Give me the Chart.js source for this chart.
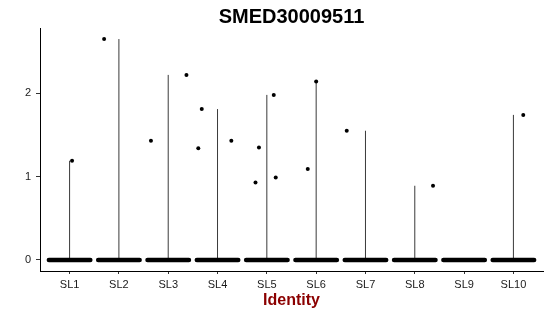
<!DOCTYPE html>
<html>
<head>
<meta charset="utf-8">
<script src="https://cdn.jsdelivr.net/npm/chart.js@4.4.1/dist/chart.umd.min.js"></script>
<style>
html, body { margin: 0; padding: 0; background: #fff; }
#wrap { width: 550px; height: 316px; }
</style>
</head>
<body>
<div id="wrap"><canvas id="vln"></canvas></div>
<script>
// Data
const categories = ['SL1', 'SL2', 'SL3', 'SL4', 'SL5', 'SL6', 'SL7', 'SL8', 'SL9', 'SL10'];
// top of each violin (max expression in the identity)
const violinMax = [1.19, 2.65, 2.22, 1.81, 1.98, 2.14, 1.55, 0.89, 0, 1.74];
// non-zero cells: identity index, expression value, jitter offset
const pointGroup = [0, 1, 2, 2, 3, 3, 3, 4, 4, 4, 4, 5, 5, 6, 7, 9];
const pointValue = [1.19, 2.65, 1.43, 2.22, 1.81, 1.34, 1.43, 1.98, 1.35, 0.93, 0.99, 2.14, 1.09, 1.55, 0.89, 1.74];
const pointJitter = [0.05, -0.30, -0.35, 0.37, -0.32, -0.39, 0.28, 0.14, -0.16, -0.23, 0.18, 0, -0.17, -0.38, 0.37, 0.20];
// zero-valued cells are jittered across this half width
const jitterWidth = 0.42;
const yTicks = [0, 1, 2];

const FONT = "'Liberation Sans', Arial, sans-serif";
const yMax = Math.max(...pointValue);
const yPad = yMax * 0.05;

const datasets = [];

// violins (collapsed to a thin line since most cells are 0)
categories.forEach((c, i) => {
    if (violinMax[i] <= 0) return;
    datasets.push({
        type: 'line',
        data: [{ x: i + 1, y: 0 }, { x: i + 1, y: violinMax[i] }],
        borderColor: '#3a3a3a',
        borderWidth: 1,
        pointRadius: 0,
        order: 3
    });
});

// band of cells at zero
categories.forEach((c, i) => {
    datasets.push({
        type: 'line',
        data: [{ x: i + 1 - jitterWidth, y: 0 }, { x: i + 1 + jitterWidth, y: 0 }],
        borderColor: '#000',
        borderWidth: 4.5,
        borderCapStyle: 'round',
        pointRadius: 0,
        order: 2
    });
});

// non-zero cells
datasets.push({
    type: 'scatter',
    data: pointValue.map((v, k) => ({ x: pointGroup[k] + 1 + pointJitter[k], y: v })),
    backgroundColor: '#000',
    borderWidth: 0,
    pointRadius: 2,
    order: 1
});

const titlePlugin = {
    id: 'plotTitle',
    afterDraw(chart) {
        const { ctx, chartArea } = chart;
        ctx.save();
        ctx.font = 'bold 20px ' + FONT;
        ctx.fillStyle = '#000';
        ctx.textAlign = 'center';
        ctx.textBaseline = 'alphabetic';
        ctx.fillText('SMED30009511', (chartArea.left + chartArea.right) / 2, 22.5);
        ctx.restore();
    }
};

const ctx = document.getElementById('vln').getContext('2d');
const chart = new Chart(ctx, {
    type: 'scatter',
    data: { datasets: datasets },
    options: {
        responsive: true,
        maintainAspectRatio: false,
        animation: false,
        layout: { padding: { top: 28, right: 7, left: 0, bottom: 0 } },
        plugins: {
            legend: { display: false },
            tooltip: { enabled: false }
        },
        scales: {
            x: {
                type: 'linear',
                min: 0.4,
                max: categories.length + 0.6,
                afterBuildTicks: axis => { axis.ticks = categories.map((c, i) => ({ value: i + 1 })); },
                afterFit: axis => { axis.height = 45; },
                ticks: {
                    autoSkip: false,
                    maxRotation: 0,
                    padding: 4,
                    color: '#1a1a1a',
                    font: { family: FONT, size: 11 },
                    callback: v => categories[v - 1]
                },
                grid: { drawOnChartArea: false, drawTicks: true, tickLength: 3, color: '#333' },
                border: { display: true, color: '#000', width: 1 },
                title: {
                    display: true,
                    text: 'Identity',
                    color: '#8B0000',
                    font: { family: FONT, size: 16, weight: 'bold' },
                    padding: { top: 0, bottom: 6 }
                }
            },
            y: {
                min: -yPad,
                max: yMax + yPad,
                afterBuildTicks: axis => { axis.ticks = yTicks.map(v => ({ value: v })); },
                afterFit: axis => { axis.width = 40; },
                ticks: {
                    padding: 5,
                    color: '#1a1a1a',
                    font: { family: FONT, size: 11 }
                },
                grid: { drawOnChartArea: false, drawTicks: true, tickLength: 4, color: '#333' },
                border: { display: true, color: '#000', width: 1 }
            }
        }
    },
    plugins: [titlePlugin]
});
</script>
</body>
</html>
